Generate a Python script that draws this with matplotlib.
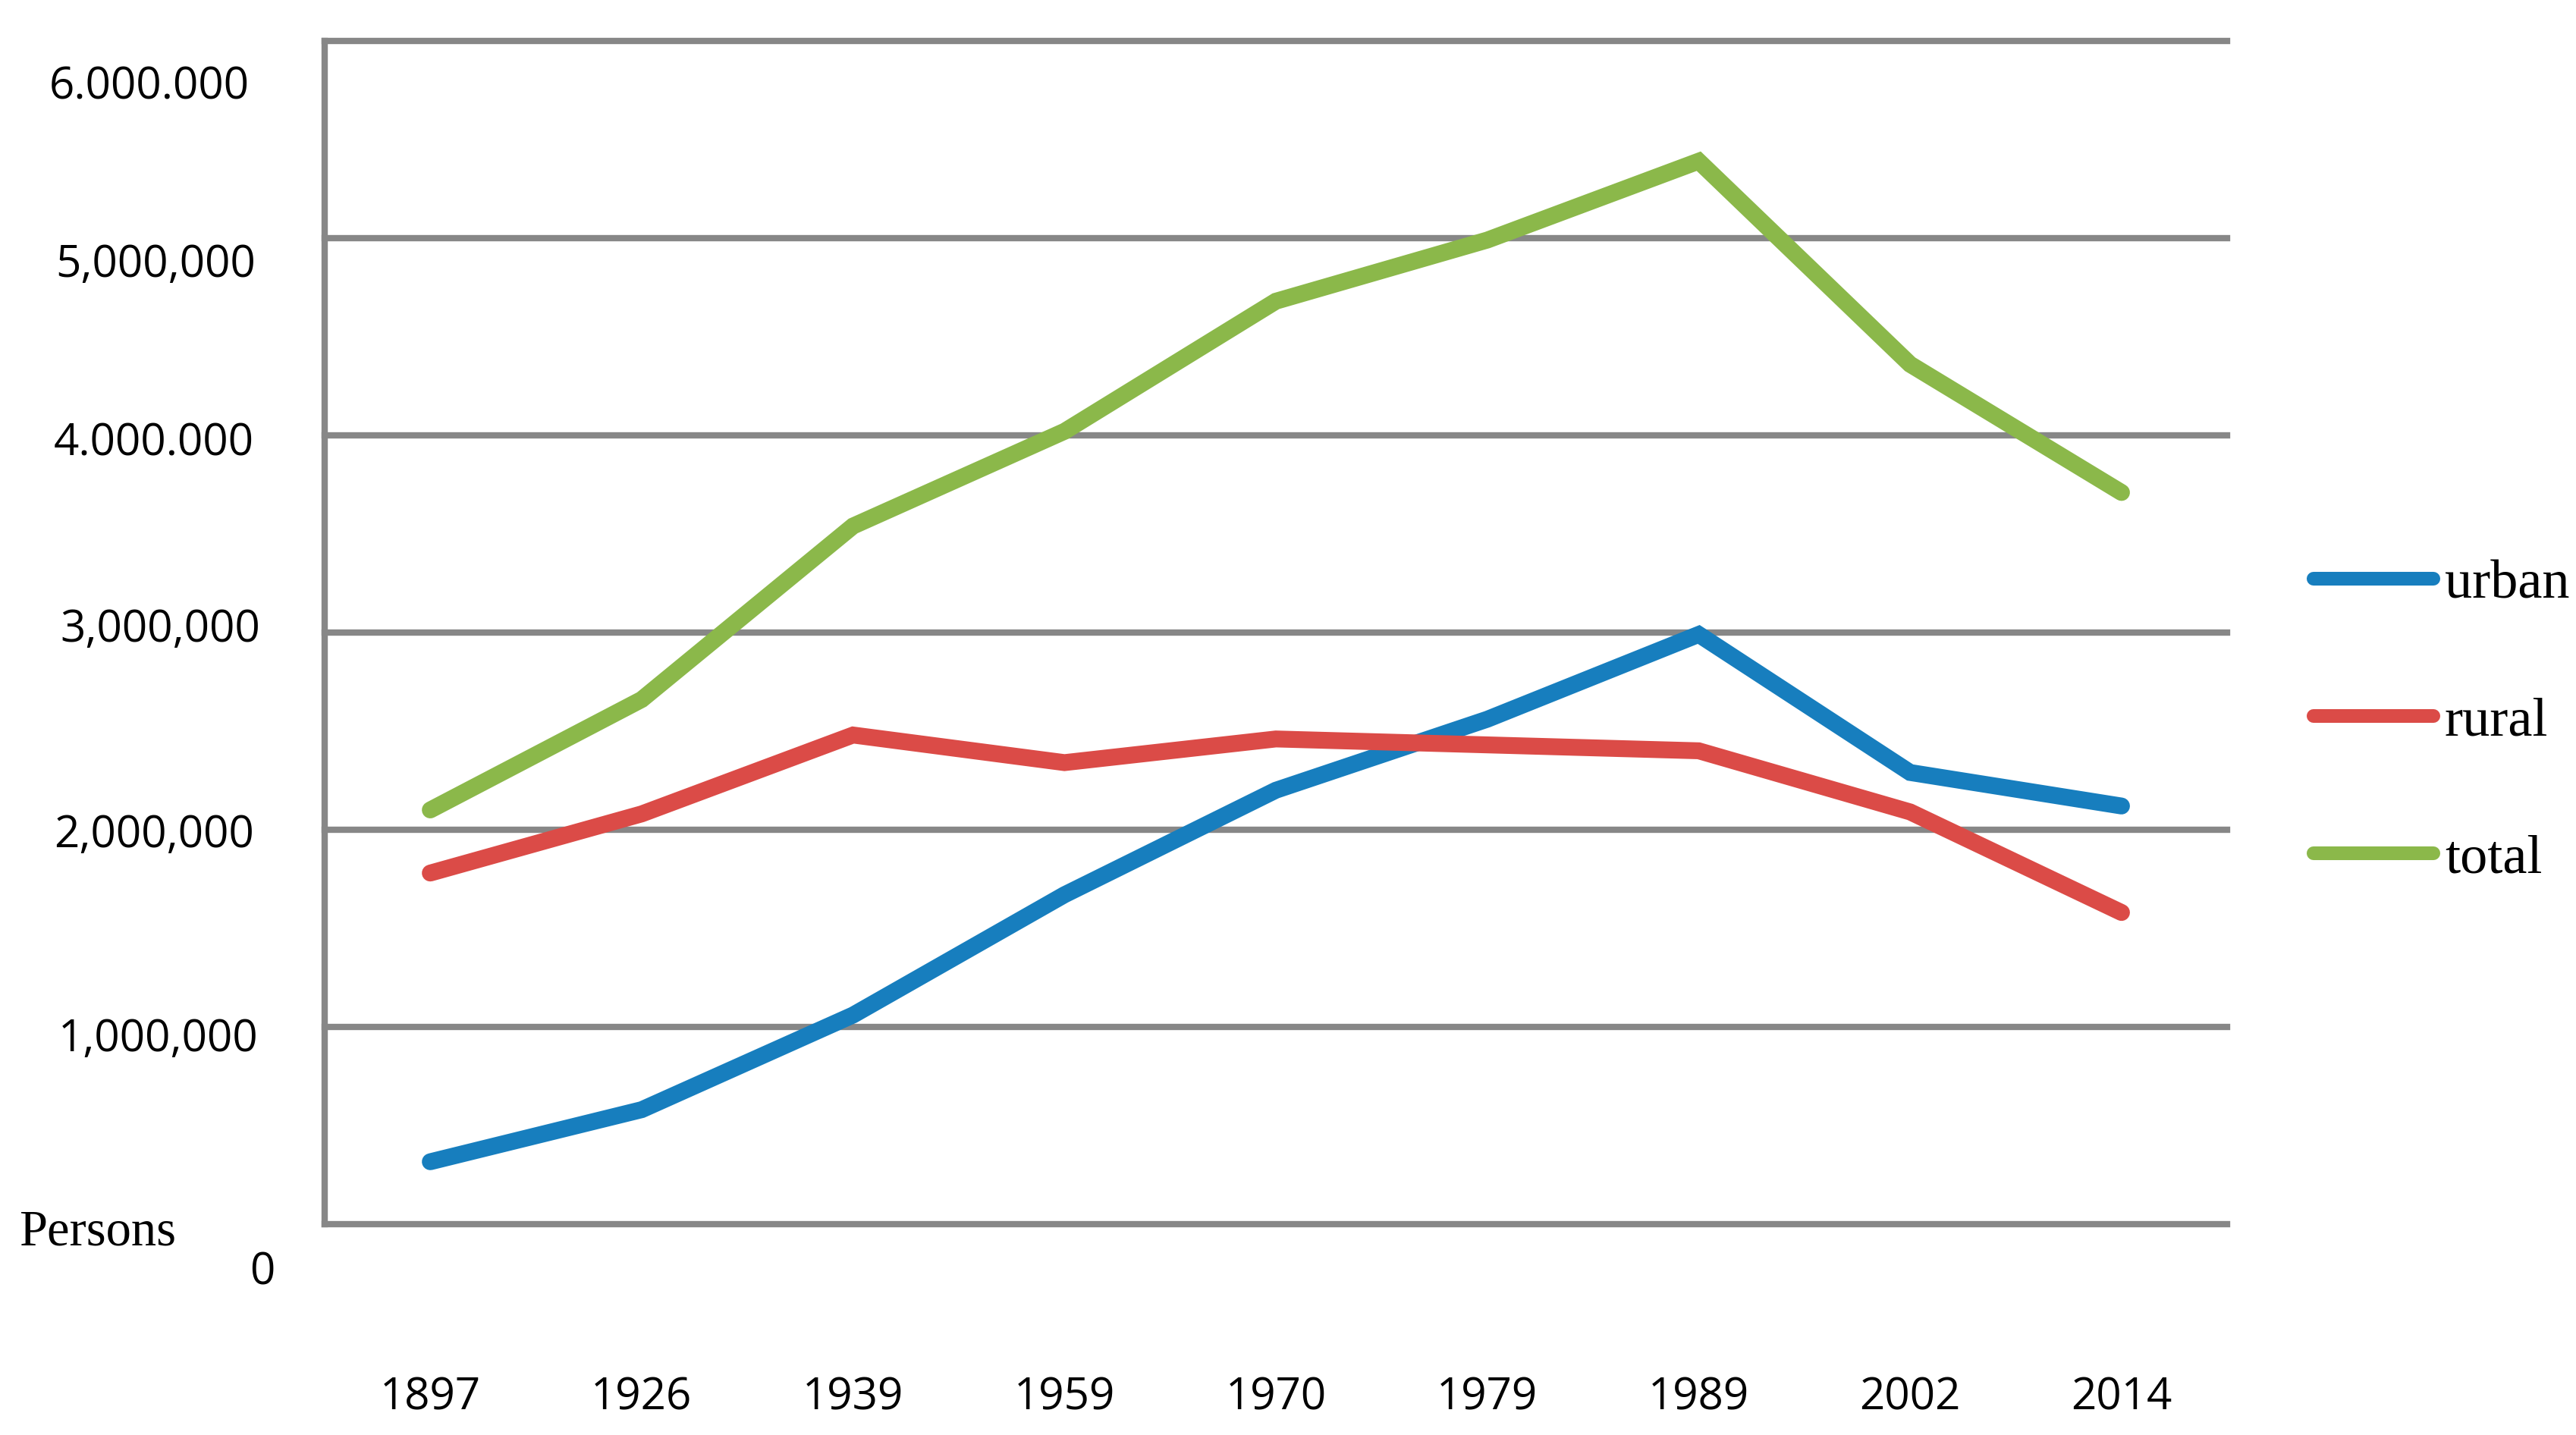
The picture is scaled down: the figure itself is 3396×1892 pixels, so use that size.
import matplotlib
matplotlib.use("Agg")
import matplotlib.pyplot as plt
from matplotlib.transforms import offset_copy

# data
years = ["1897", "1926", "1939", "1959", "1970", "1979", "1989", "2002", "2014"]
urban = [316000, 580000, 1060000, 1670000, 2200000, 2560000, 2990000, 2290000, 2120000]
rural = [1780000, 2080000, 2480000, 2340000, 2460000, 2430000, 2400000, 2090000, 1580000]
total = [2100000, 2660000, 3540000, 4020000, 4680000, 4990000, 5390000, 4360000, 3710000]

y_values = [6000000, 5000000, 4000000, 3000000, 2000000, 1000000, 0]
y_labels = ["6.000.000", "5,000,000", "4.000.000", "3,000,000", "2,000,000", "1,000,000", "0"]

series_names = ["urban", "rural", "total"]
series_colors = ["#177ebe", "#db4b47", "#8bb84a"]
grid_color = "#878787"

sans = "Open Sans"
serif = "Liberation Serif"

fig = plt.figure(figsize=(16.98, 9.46), dpi=200)
ax = fig.add_axes([0.126, 0.147, 0.7386, 0.8245])

x = list(range(len(years)))
for name, vals, col in zip(series_names, [urban, rural, total], series_colors):
    ax.plot(x, vals, color=col, lw=8, label=name,
            solid_capstyle="round", solid_joinstyle="miter")

ax.set_xlim(-0.5, len(years) - 0.5)
ax.set_ylim(0, 6000000)
ax.set_yticks(y_values)
ax.set_yticklabels([])
ax.tick_params(axis="y", length=0)
ax.yaxis.grid(True, color=grid_color, lw=3)
for gl in ax.get_ygridlines():
    gl.set_clip_on(False)
ax.set_axisbelow(True)

ax.set_xticks(x)
ax.set_xticklabels(years, fontsize=21, family=sans)
ax.tick_params(axis="x", length=0, pad=72)

for side in ["top", "right", "bottom"]:
    ax.spines[side].set_visible(False)
ax.spines["left"].set_color(grid_color)
ax.spines["left"].set_linewidth(3)

# the y labels in the original sit a bit off their gridlines
nudge_down = [22, 13, 4, -1, 3, 6, 23]   # points
right_shift = [-3, 0, -1, 2, -1, 1, 9]   # points
for val, lab, dy, dx in zip(y_values, y_labels, nudge_down, right_shift):
    tr = offset_copy(ax.get_yaxis_transform(), fig=fig, x=dx, y=-dy, units="points")
    ax.text(-0.036, val, lab, transform=tr, ha="right", va="center",
            fontsize=21, family=sans)

fig.text(25 / 3396, 1 - 1625 / 1892, "Persons", ha="left", va="center",
         fontsize=24, family=serif)

leg = ax.legend(loc="center left", bbox_to_anchor=(0.898, 0.497),
                bbox_transform=fig.transFigure, frameon=False, borderpad=0,
                borderaxespad=0, handlelength=2.2, handletextpad=0.2,
                labelspacing=1.6, prop={"family": serif, "size": 26})
for ln in leg.get_lines():
    ln.set_linewidth(6.5)

fig.savefig("out.png", dpi=200, facecolor="white")
